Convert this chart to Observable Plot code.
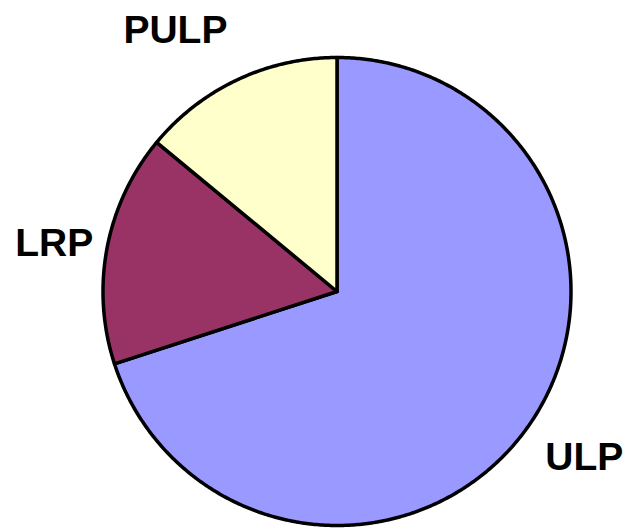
<!DOCTYPE html>
<html>
<head>
<meta charset="utf-8">
<script src="https://cdn.jsdelivr.net/npm/d3@7"></script>
<script src="https://cdn.jsdelivr.net/npm/@observablehq/plot@0.6"></script>
<style>
  html, body { margin: 0; padding: 0; background: #fff; }
</style>
</head>
<body>
<div id="chart"></div>
<script>
const categories = ["ULP", "LRP", "PULP"];
const values = [70, 16, 14];
const colors = ["#9999FF", "#993366", "#FFFFCC"];

const total = d3.sum(values);
const slices = [];
let acc = 0;
categories.forEach((c, i) => {
  const a0 = acc / total * 2 * Math.PI;
  acc += values[i];
  const a1 = acc / total * 2 * Math.PI;
  slices.push({label: c, a0, a1, mid: (a0 + a1) / 2});
});

// polygon points for each slice (angles clockwise from 12 o'clock)
const pts = [];
for (const s of slices) {
  pts.push({label: s.label, x: 0, y: 0});
  const n = Math.max(2, Math.ceil((s.a1 - s.a0) / (Math.PI / 360)));
  for (let k = 0; k <= n; k++) {
    const a = s.a0 + (s.a1 - s.a0) * k / n;
    pts.push({label: s.label, x: Math.sin(a), y: Math.cos(a)});
  }
  pts.push({label: s.label, x: 0, y: 0});
}

const R = 1.1;
const labels = slices.map(s => ({
  label: s.label,
  x: R * Math.sin(s.mid),
  y: R * Math.cos(s.mid),
  side: Math.sin(s.mid) < 0 ? "end" : "start",
  v: Math.cos(s.mid) > 0.5 ? "bottom" : (Math.cos(s.mid) < -0.5 ? "top" : "middle")
}));

const textMark = (side, v) => Plot.text(labels.filter(d => d.side === side && d.v === v), {
  x: "x", y: "y", text: "label",
  textAnchor: side, lineAnchor: v,
  dx: v === "middle" ? (side === "end" ? 9 : -9) : 0,
  dy: v === "bottom" ? -16 : 0,
  fontSize: 39, fontWeight: "bold",
  fontFamily: "Liberation Sans, Arial, sans-serif",
  fill: "#000"
});

const plot = Plot.plot({
  width: 633,
  height: 531,
  margin: 0,
  x: {domain: [-1, 1], range: [102.5, 570.5], axis: null},
  y: {domain: [-1, 1], range: [525, 57], axis: null},
  color: {domain: categories, range: colors},
  style: {background: "#fff", overflow: "visible"},
  marks: [
    Plot.line(pts, {
      x: "x", y: "y", z: "label", fill: "label",
      stroke: "#000", strokeWidth: 3.5, strokeLinejoin: "round", curve: "linear"
    }),
    textMark("end", "bottom"),
    textMark("end", "middle"),
    textMark("end", "top"),
    textMark("start", "bottom"),
    textMark("start", "middle"),
    textMark("start", "top")
  ]
});
document.getElementById("chart").appendChild(plot);
</script>
</body>
</html>
